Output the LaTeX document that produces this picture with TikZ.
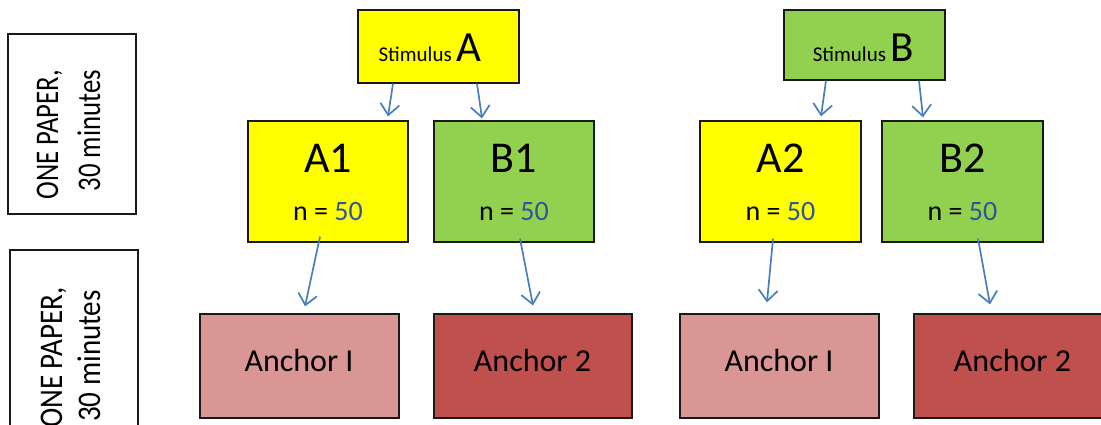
\documentclass[tikz,border=0pt]{standalone}
\usepackage{fontspec}
\usepackage{graphicx}
\setmainfont{Carlito}
\usetikzlibrary{arrows.meta}
\definecolor{yel}{HTML}{FFFF00}
\definecolor{grn}{HTML}{92D050}
\definecolor{ancl}{HTML}{D99694}
\definecolor{ancd}{HTML}{C0504D}
\definecolor{arrc}{HTML}{4A7EBB}
\definecolor{numc}{HTML}{2E5597}
\tikzset{
  box/.style={draw=black!90, line width=1.2pt, inner sep=0pt},
  arr/.style={draw=arrc, line width=1.7pt, -{Straight Barb[length=11pt,width=19pt]}},
  big/.style={font=\fontsize{44}{48}\selectfont, inner sep=0pt},
  nn/.style={font=\fontsize{28}{32}\selectfont, inner sep=0pt},
  anc/.style={font=\fontsize{32}{36}\selectfont, inner sep=0pt},
  side/.style={font=\fontsize{33}{38}\selectfont, inner sep=0pt, rotate=90, anchor=base east},
}
\begin{document}
\begin{tikzpicture}[x=1pt,y=-1pt]
\useasboundingbox (0,0) rectangle (1101,425);
\clip (0,0) rectangle (1101,425);
% left side boxes
\node[box, minimum width=128pt, minimum height=180pt] (L1) at (72,124) {};
\node[box, minimum width=128pt, minimum height=200pt] (L2) at (74,350) {};
\node[side] (L1a) at (58,70) {\scalebox{0.81}[1]{ONE PAPER,}};
\node[side] (L1b) at (100,70) {\scalebox{0.81}[1]{30 minutes}};
\node[side] (L2a) at (62,287) {\scalebox{0.88}[1]{ONE PAPER,}};
\node[side] (L2b) at (100,290) {\scalebox{0.88}[1]{30 minutes}};
% stimulus boxes
\node[box, fill=yel, minimum width=161pt, minimum height=73pt] (SA) at (438.5,46.5) {};
\node[inner sep=0pt, anchor=base] (SAt) at (430,62) {\fontsize{21}{24}\selectfont Stimulus {\fontsize{43}{46}\selectfont A}};
\node[box, fill=grn, minimum width=161pt, minimum height=70pt] (SB) at (864.5,45) {};
\node[inner sep=0pt, anchor=base] (SBt) at (863.5,62) {\fontsize{21}{24}\selectfont Stimulus {\fontsize{43}{46}\selectfont B}};
% group boxes
\node[box, fill=yel, minimum width=160pt, minimum height=121pt] (A1) at (328,181.5) {};
\node[box, fill=grn, minimum width=160pt, minimum height=121pt] (B1) at (514,181.5) {};
\node[box, fill=yel, minimum width=161pt, minimum height=121pt] (A2) at (780.5,181.5) {};
\node[box, fill=grn, minimum width=161pt, minimum height=121pt] (B2) at (962.5,181.5) {};
\node[big, anchor=base] (A1t) at (328,172.5) {A1};
\node[big, anchor=base] (B1t) at (514,172.5) {B1};
\node[big, anchor=base] (A2t) at (780.5,172.5) {A2};
\node[big, anchor=base] (B2t) at (962.5,172.5) {B2};
\node[nn, anchor=base] (A1n) at (328,220) {n = \textcolor{numc}{50}};
\node[nn, anchor=base] (B1n) at (514,220) {n = \textcolor{numc}{50}};
\node[nn, anchor=base] (A2n) at (780.5,220) {n = \textcolor{numc}{50}};
\node[nn, anchor=base] (B2n) at (962.5,220) {n = \textcolor{numc}{50}};
% anchor boxes
\node[box, fill=ancl, minimum width=199pt, minimum height=104pt] (N1) at (299.5,366) {};
\node[box, fill=ancd, minimum width=198pt, minimum height=104pt] (N2) at (533,366) {};
\node[box, fill=ancl, minimum width=199pt, minimum height=104pt] (N3) at (779.5,366) {};
\node[box, fill=ancd, minimum width=199pt, minimum height=104pt] (N4) at (1013.5,366) {};
\node[anc, anchor=base] (N1t) at (299,371) {Anchor I};
\node[anc, anchor=base] (N2t) at (532.5,371) {Anchor 2};
\node[anc, anchor=base] (N3t) at (779,371) {Anchor I};
\node[anc, anchor=base] (N4t) at (1012.5,371) {Anchor 2};
% arrows
\draw[arr] ([xshift=-45.5pt]SA.south) -- ([xshift=60pt,yshift=4pt]A1.north);
\draw[arr] ([xshift=38.5pt]SA.south) -- ([xshift=-32pt,yshift=2pt]B1.north);
\draw[arr] ([xshift=-38.5pt]SB.south) -- ([xshift=40.5pt,yshift=4pt]A2.north);
\draw[arr] ([xshift=54.5pt]SB.south) -- ([xshift=-39.5pt,yshift=3pt]B2.north);
\draw[arr] ([xshift=-8pt,yshift=6pt]A1.south) -- ([xshift=5.5pt,yshift=7pt]N1.north);
\draw[arr] ([xshift=6pt,yshift=4pt]B1.south) -- ([xshift=0pt,yshift=8pt]N2.north);
\draw[arr] ([xshift=-7.5pt,yshift=4pt]A2.south) -- ([xshift=-12.5pt,yshift=11pt]N3.north);
\draw[arr] ([xshift=15.5pt,yshift=4pt]B2.south) -- ([xshift=-23.5pt,yshift=9pt]N4.north);
\end{tikzpicture}
\end{document}
